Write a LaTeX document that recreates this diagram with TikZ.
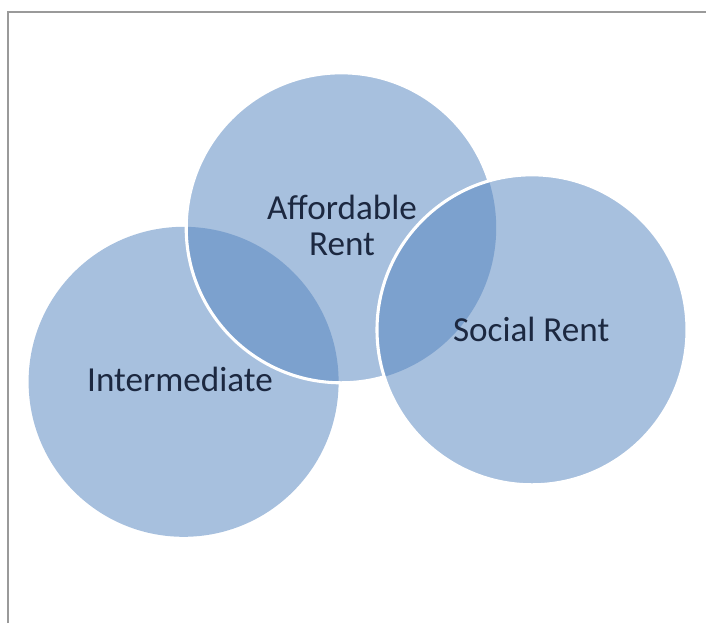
\documentclass[tikz,border=0pt]{standalone}
\usepackage{fontspec}
\setmainfont{Carlito}
\usepackage{xcolor}
\usepackage{tikz}
\usetikzlibrary{positioning, calc}

\definecolor{vennblue}{HTML}{A7C0DE}
\definecolor{lensblue}{HTML}{7CA1CE}
\definecolor{inkblue}{HTML}{1C2840}
\definecolor{framegray}{HTML}{9A9A9A}

\begin{document}
\begin{tikzpicture}[venn/.style={circle, minimum size=7.75cm, inner sep=0pt, fill=vennblue},
  rim/.style={draw=white, line width=2.2pt},
  venntext/.style={text=inkblue, align=center, font=\fontsize{25}{26.2}\selectfont}]
  \useasboundingbox (0,0) rectangle (17.65,15.575);
  \draw[framegray, line width=1.4pt] (0.2,0) |- (17.65,15.275);
  % circles, back to front
  \node[venn] (inter) at (4.59, 6.03) {};
  \node[venn] (afford) at (8.53, 9.88) {};
  \begin{scope}
    \clip (inter.center) circle (3.875);
    \fill[lensblue] (afford.center) circle (3.875);
  \end{scope}
  \draw[rim] (afford.center) circle (3.875);
  \node[venn] (social) at (13.3, 7.33) {};
  \begin{scope}
    \clip (afford.center) circle (3.875);
    \fill[lensblue] (social.center) circle (3.875);
  \end{scope}
  \draw[rim] (social.center) circle (3.875);
  % labels
  \node[venntext] (intertext) at (4.5, 6.1) {Intermediate};
  \node[venntext] (affordtext) at (8.55, 9.94) {Affordable\\Rent};
  \node[venntext] (socialtext) at (13.28, 7.33) {Social Rent};
\end{tikzpicture}
\end{document}
